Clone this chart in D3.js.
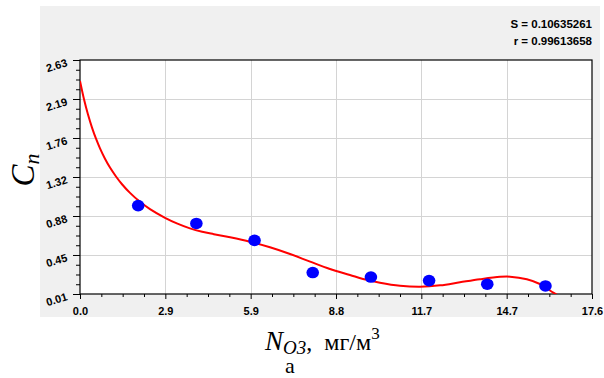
<!DOCTYPE html>
<html>
<head>
<meta charset="utf-8">
<script src="https://cdn.jsdelivr.net/npm/d3@7"></script>
<style>
  html, body { margin: 0; padding: 0; background: #fff; }
  svg { display: block; }
</style>
</head>
<body>
<script>
// ---- data ----
const pointX = [2, 4, 6, 8, 10, 12, 14, 16];
const pointY = [1.00, 0.80, 0.61, 0.25, 0.20, 0.16, 0.12, 0.10];

const fitX = [0, 0.1375, 0.275, 0.4125, 0.55, 0.6875, 0.859, 1.031, 1.2375, 1.444, 1.719, 2.0625, 2.406, 2.922, 3.35, 3.78, 4.2, 4.6, 5.16, 5.84, 6.53, 7.22, 7.91, 8.59, 9.28, 9.73, 10.31, 11.0, 11.69, 12.38, 13.06, 13.75, 14.44, 14.78, 15.36, 15.81, 16.27, 16.4];
const fitY = [2.395, 2.19, 2.019, 1.873, 1.749, 1.641, 1.525, 1.426, 1.326, 1.239, 1.142, 1.042, 0.96, 0.863, 0.798, 0.745, 0.707, 0.68, 0.645, 0.596, 0.533, 0.458, 0.372, 0.29, 0.223, 0.178, 0.137, 0.103, 0.092, 0.107, 0.141, 0.175, 0.202, 0.204, 0.175, 0.122, 0.025, 0.0];

const xTickValues = [0, 2.9333, 5.8667, 8.8, 11.7333, 14.6667, 17.6];
const yTickValues = [0.01, 0.4467, 0.8833, 1.32, 1.7567, 2.1933, 2.63];
const statsLines = ["S = 0.10635261", "r = 0.99613658"];

// ---- layout ----
const W = 604, H = 378;
const plot = { left: 80, right: 592, top: 60, bottom: 294 };

const svg = d3.select("body").append("svg").attr("width", W).attr("height", H);

// gray panel
svg.append("rect").attr("x", 40).attr("y", 6).attr("width", 560).attr("height", 311).attr("fill", "#f0f0f0");
svg.append("rect").attr("x", plot.left).attr("y", plot.top)
  .attr("width", plot.right - plot.left).attr("height", plot.bottom - plot.top).attr("fill", "#fff");

const x = d3.scaleLinear().domain([0, 17.6]).range([plot.left, plot.right]);
const y = d3.scaleLinear().domain([0.01, 2.63]).range([plot.bottom, plot.top]);

// grid
const grid = svg.append("g").attr("stroke", "#d4d4d4").attr("stroke-width", 1);
xTickValues.slice(1, -1).forEach(v => {
  grid.append("line").attr("x1", Math.round(x(v)) + 0.5).attr("x2", Math.round(x(v)) + 0.5)
    .attr("y1", plot.top).attr("y2", plot.bottom);
});
yTickValues.slice(1, -1).forEach(v => {
  grid.append("line").attr("y1", Math.round(y(v)) + 0.5).attr("y2", Math.round(y(v)) + 0.5)
    .attr("x1", plot.left).attr("x2", plot.right);
});

// minor tick values
function minors(vals) {
  const out = [];
  for (let i = 0; i < vals.length - 1; i++) {
    for (let k = 1; k < 4; k++) out.push(vals[i] + (vals[i + 1] - vals[i]) * k / 4);
  }
  return out;
}

// x axis
const xAxis = d3.axisBottom(x).tickValues(xTickValues).tickFormat(d3.format(".1f")).tickSize(5).tickPadding(8);
const gx = svg.append("g").attr("transform", `translate(0,${plot.bottom})`).call(xAxis);
gx.select(".domain").remove();
gx.selectAll("line").attr("stroke", "#000");
gx.selectAll("text").attr("font-family", "Liberation Sans, Arial, sans-serif")
  .attr("font-size", 11).attr("font-weight", "bold").attr("fill", "#000");
const gxm = svg.append("g").attr("transform", `translate(0,${plot.bottom})`)
  .call(d3.axisBottom(x).tickValues(minors(xTickValues)).tickSize(3).tickFormat(""));
gxm.select(".domain").remove();
gxm.selectAll("line").attr("stroke", "#000");

// y axis
const yAxis = d3.axisLeft(y).tickValues(yTickValues).tickFormat(d3.format(".2f")).tickSize(7);
const gy = svg.append("g").attr("transform", `translate(${plot.left},0)`).call(yAxis);
gy.select(".domain").remove();
gy.selectAll("line").attr("stroke", "#000");
gy.selectAll("text")
  .attr("font-family", "Liberation Sans, Arial, sans-serif")
  .attr("font-size", 11).attr("font-weight", "bold").attr("fill", "#000")
  .attr("x", null).attr("dy", null)
  .attr("text-anchor", "end")
  .attr("transform", "translate(-12,5.5) rotate(-17)");
const gym = svg.append("g").attr("transform", `translate(${plot.left},0)`)
  .call(d3.axisLeft(y).tickValues(minors(yTickValues)).tickSize(4).tickFormat(""));
gym.select(".domain").remove();
gym.selectAll("line").attr("stroke", "#000");

// frame
svg.append("rect").attr("x", plot.left).attr("y", plot.top)
  .attr("width", plot.right - plot.left).attr("height", plot.bottom - plot.top)
  .attr("fill", "none").attr("stroke", "#000").attr("stroke-width", 1.2);

// clip
svg.append("clipPath").attr("id", "clip").append("rect")
  .attr("x", plot.left).attr("y", plot.top).attr("width", plot.right - plot.left).attr("height", plot.bottom - plot.top);

// fit curve
const fit = fitX.map((v, i) => [v, fitY[i]]);
svg.append("path").attr("clip-path", "url(#clip)")
  .attr("d", d3.line().x(d => x(d[0])).y(d => y(d[1])).curve(d3.curveCatmullRom.alpha(0.5))(fit))
  .attr("fill", "none").attr("stroke", "#ff0000").attr("stroke-width", 2);

// points
svg.append("g").selectAll("ellipse").data(pointX.map((v, i) => [v, pointY[i]])).join("ellipse")
  .attr("cx", d => x(d[0])).attr("cy", d => y(d[1])).attr("rx", 6.3).attr("ry", 5.8)
  .attr("fill", "#0000ff");

// stats text
svg.append("g").selectAll("text").data(statsLines).join("text")
  .attr("x", 592).attr("y", (d, i) => 28 + i * 16.7)
  .attr("text-anchor", "end")
  .attr("font-family", "Liberation Sans, Arial, sans-serif").attr("font-size", 11.5).attr("font-weight", "bold")
  .attr("fill", "#000").text(d => d);

// y title
const yt = svg.append("text").attr("transform", "translate(34,170) rotate(-90)")
  .attr("text-anchor", "middle").attr("font-family", "Liberation Serif, Times New Roman, serif")
  .attr("fill", "#000");
yt.append("tspan").attr("font-style", "italic").attr("font-size", 33).text("C");
yt.append("tspan").attr("font-style", "italic").attr("font-size", 22).attr("dy", 5).text("n");

// x title
const xt = svg.append("text").attr("x", 265).attr("y", 350)
  .attr("font-family", "Liberation Serif, Times New Roman, serif").attr("fill", "#000");
xt.append("tspan").attr("font-style", "italic").attr("font-size", 27).text("N");
xt.append("tspan").attr("font-style", "italic").attr("font-size", 19).attr("dy", 4).text("O3");
xt.append("tspan").attr("font-size", 24).attr("dy", -4).text(",\u00a0\u00a0мг/м");
xt.append("tspan").attr("font-size", 17).attr("dy", -11).text("3");

svg.append("text").attr("x", 290).attr("y", 373).attr("text-anchor", "middle")
  .attr("font-family", "Liberation Serif, Times New Roman, serif").attr("font-size", 22)
  .attr("fill", "#000").text("а");
</script>
</body>
</html>
